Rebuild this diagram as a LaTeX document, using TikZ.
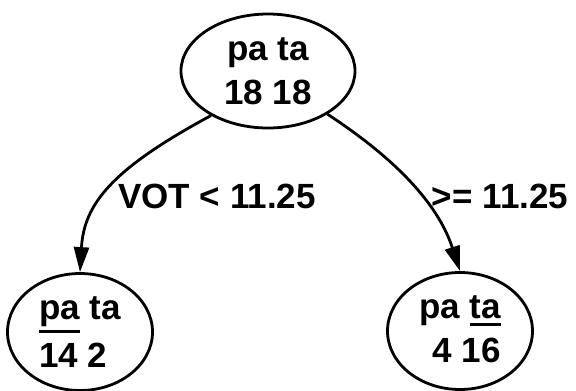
\documentclass[tikz,border=0pt]{standalone}
\usepackage{fontspec}
\setmainfont{Liberation Sans}
\usetikzlibrary{shapes.geometric,arrows.meta}
\newcommand\thickul[2][4pt]{\smash{\vtop{\hbox{#2}\kern#1\hrule height 3pt}}}
\begin{document}
\begin{tikzpicture}[x=1pt,y=-1pt,
  tnode/.style={ellipse,draw,line width=2.8pt,inner sep=0pt},
  conn/.style={line width=2.8pt,-{Triangle[length=25pt,width=15pt]}},
  lbl/.style={font=\fontsize{35}{40}\selectfont\bfseries,inner sep=0pt}]
\useasboundingbox (0,0) rectangle (576,391);
\node[tnode,minimum width=174pt,minimum height=114pt,align=center,
  font=\fontsize{35}{44}\selectfont\bfseries] (root) at (268,71) {pa ta\\18 18};
\node[tnode,minimum width=145pt,minimum height=117pt,align=left,
  font=\fontsize{35}{48}\selectfont\bfseries] (left) at (80,332) {\thickul[3pt]{pa} ta\\14 2};
\node[tnode,minimum width=145pt,minimum height=117pt,align=right,
  font=\fontsize{35}{44}\selectfont\bfseries] (right) at (460,331) {pa \thickul{ta}\\4 16};
\draw[conn] (root.-142) .. controls (110,170) and (84,205) .. (left.north);
\draw[conn] (root.-36) .. controls (405,165) and (440,210) .. (right.north);
\node[lbl] (l1) at (217,196) {VOT < 11.25};
\node[lbl] (l2) at (500,196) {>= 11.25};
\end{tikzpicture}
\end{document}
